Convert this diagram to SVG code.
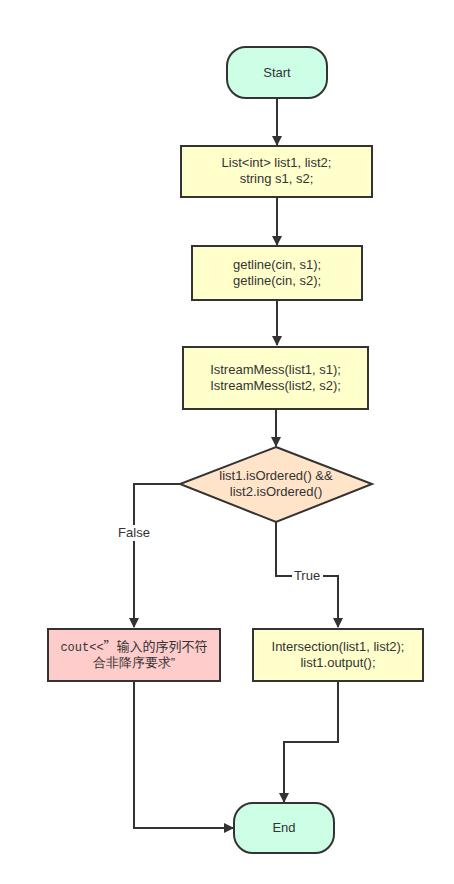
<svg xmlns="http://www.w3.org/2000/svg" width="454" height="884" viewBox="0 0 454 884">
<style>
.n{stroke:#333;stroke-width:2}
.t{font-family:"Liberation Sans",Arial,sans-serif;font-size:13px;fill:#333;text-anchor:middle}
.c{fill:none;stroke:#333;stroke-width:2}
.lb{font-family:"Liberation Sans",Arial,sans-serif;font-size:13px;fill:#333;text-anchor:middle}
</style>
<defs>
<marker id="ar" markerWidth="10" markerHeight="10" refX="9" refY="5" orient="auto" markerUnits="userSpaceOnUse">
<path d="M0,0 L10,5 L0,10 Z" fill="#333"/>
</marker>
</defs>
<rect width="454" height="884" fill="#fff"/>
<g id="connectors">
<path class="c" d="M277,98 V145" marker-end="url(#ar)"/>
<path class="c" d="M277,197 V245" marker-end="url(#ar)"/>
<path class="c" d="M277,300 V345" marker-end="url(#ar)"/>
<path class="c" d="M276,409 V446" marker-end="url(#ar)"/>
<path class="c" d="M180,484 H134 V627" marker-end="url(#ar)"/>
<rect x="113" y="525" width="42" height="16" fill="#fff"/>
<text class="lb" x="134" y="537">False</text>
<path class="c" d="M276,522 V576 H338 V627" marker-end="url(#ar)"/>
<rect x="292" y="568" width="31" height="16" fill="#fff"/>
<text class="lb" x="307" y="580">True</text>
<path class="c" d="M134,681 V828 H233" marker-end="url(#ar)"/>
<path class="c" d="M338,681 V742 H284 V802" marker-end="url(#ar)"/>
</g>
<g id="start">
<rect class="n" x="227" y="47" width="100" height="51" rx="19" fill="#ccffe6"/>
<text class="t" x="277" y="77">Start</text>
</g>
<g id="decl">
<rect class="n" x="181" y="146" width="191" height="51" fill="#ffffcc"/>
<text class="t" x="276.5" y="167">List&lt;int&gt; list1, list2;</text>
<text class="t" x="276.5" y="183">string s1, s2;</text>
</g>
<g id="getline">
<rect class="n" x="192" y="246" width="170" height="54" fill="#ffffcc"/>
<text class="t" x="277" y="269">getline(cin, s1);</text>
<text class="t" x="277" y="285">getline(cin, s2);</text>
</g>
<g id="istream">
<rect class="n" x="183" y="347" width="185" height="62" fill="#ffffcc"/>
<text class="t" x="275.5" y="374">IstreamMess(list1, s1);</text>
<text class="t" x="275.5" y="390">IstreamMess(list2, s2);</text>
</g>
<g id="decision">
<polygon class="n" points="276,447 372,484 276,522 180,484" fill="#ffe4c9"/>
<text class="t" x="276" y="480">list1.isOrdered() &amp;&amp;</text>
<text class="t" x="276" y="496">list2.isOrdered()</text>
</g>
<g id="error">
<rect class="n" x="48" y="629" width="172" height="52" fill="#ffcccc"/>
<text class="t" x="134" y="651"><tspan font-family="'Liberation Mono',monospace" font-size="12px">cout&lt;&lt;</tspan><tspan font-family="'Noto Sans CJK SC',sans-serif">”输入的序列不符</tspan></text>
<text class="t" x="134" y="667" font-family="'Noto Sans CJK SC',sans-serif">合非降序要求”</text>
</g>
<g id="intersect">
<rect class="n" x="253" y="629" width="170" height="52" fill="#ffffcc"/>
<text class="t" x="338" y="651">Intersection(list1, list2);</text>
<text class="t" x="338" y="667">list1.output();</text>
</g>
<g id="end">
<rect class="n" x="234" y="803" width="100" height="50" rx="19" fill="#ccffe6"/>
<text class="t" x="284" y="832">End</text>
</g>
</svg>
